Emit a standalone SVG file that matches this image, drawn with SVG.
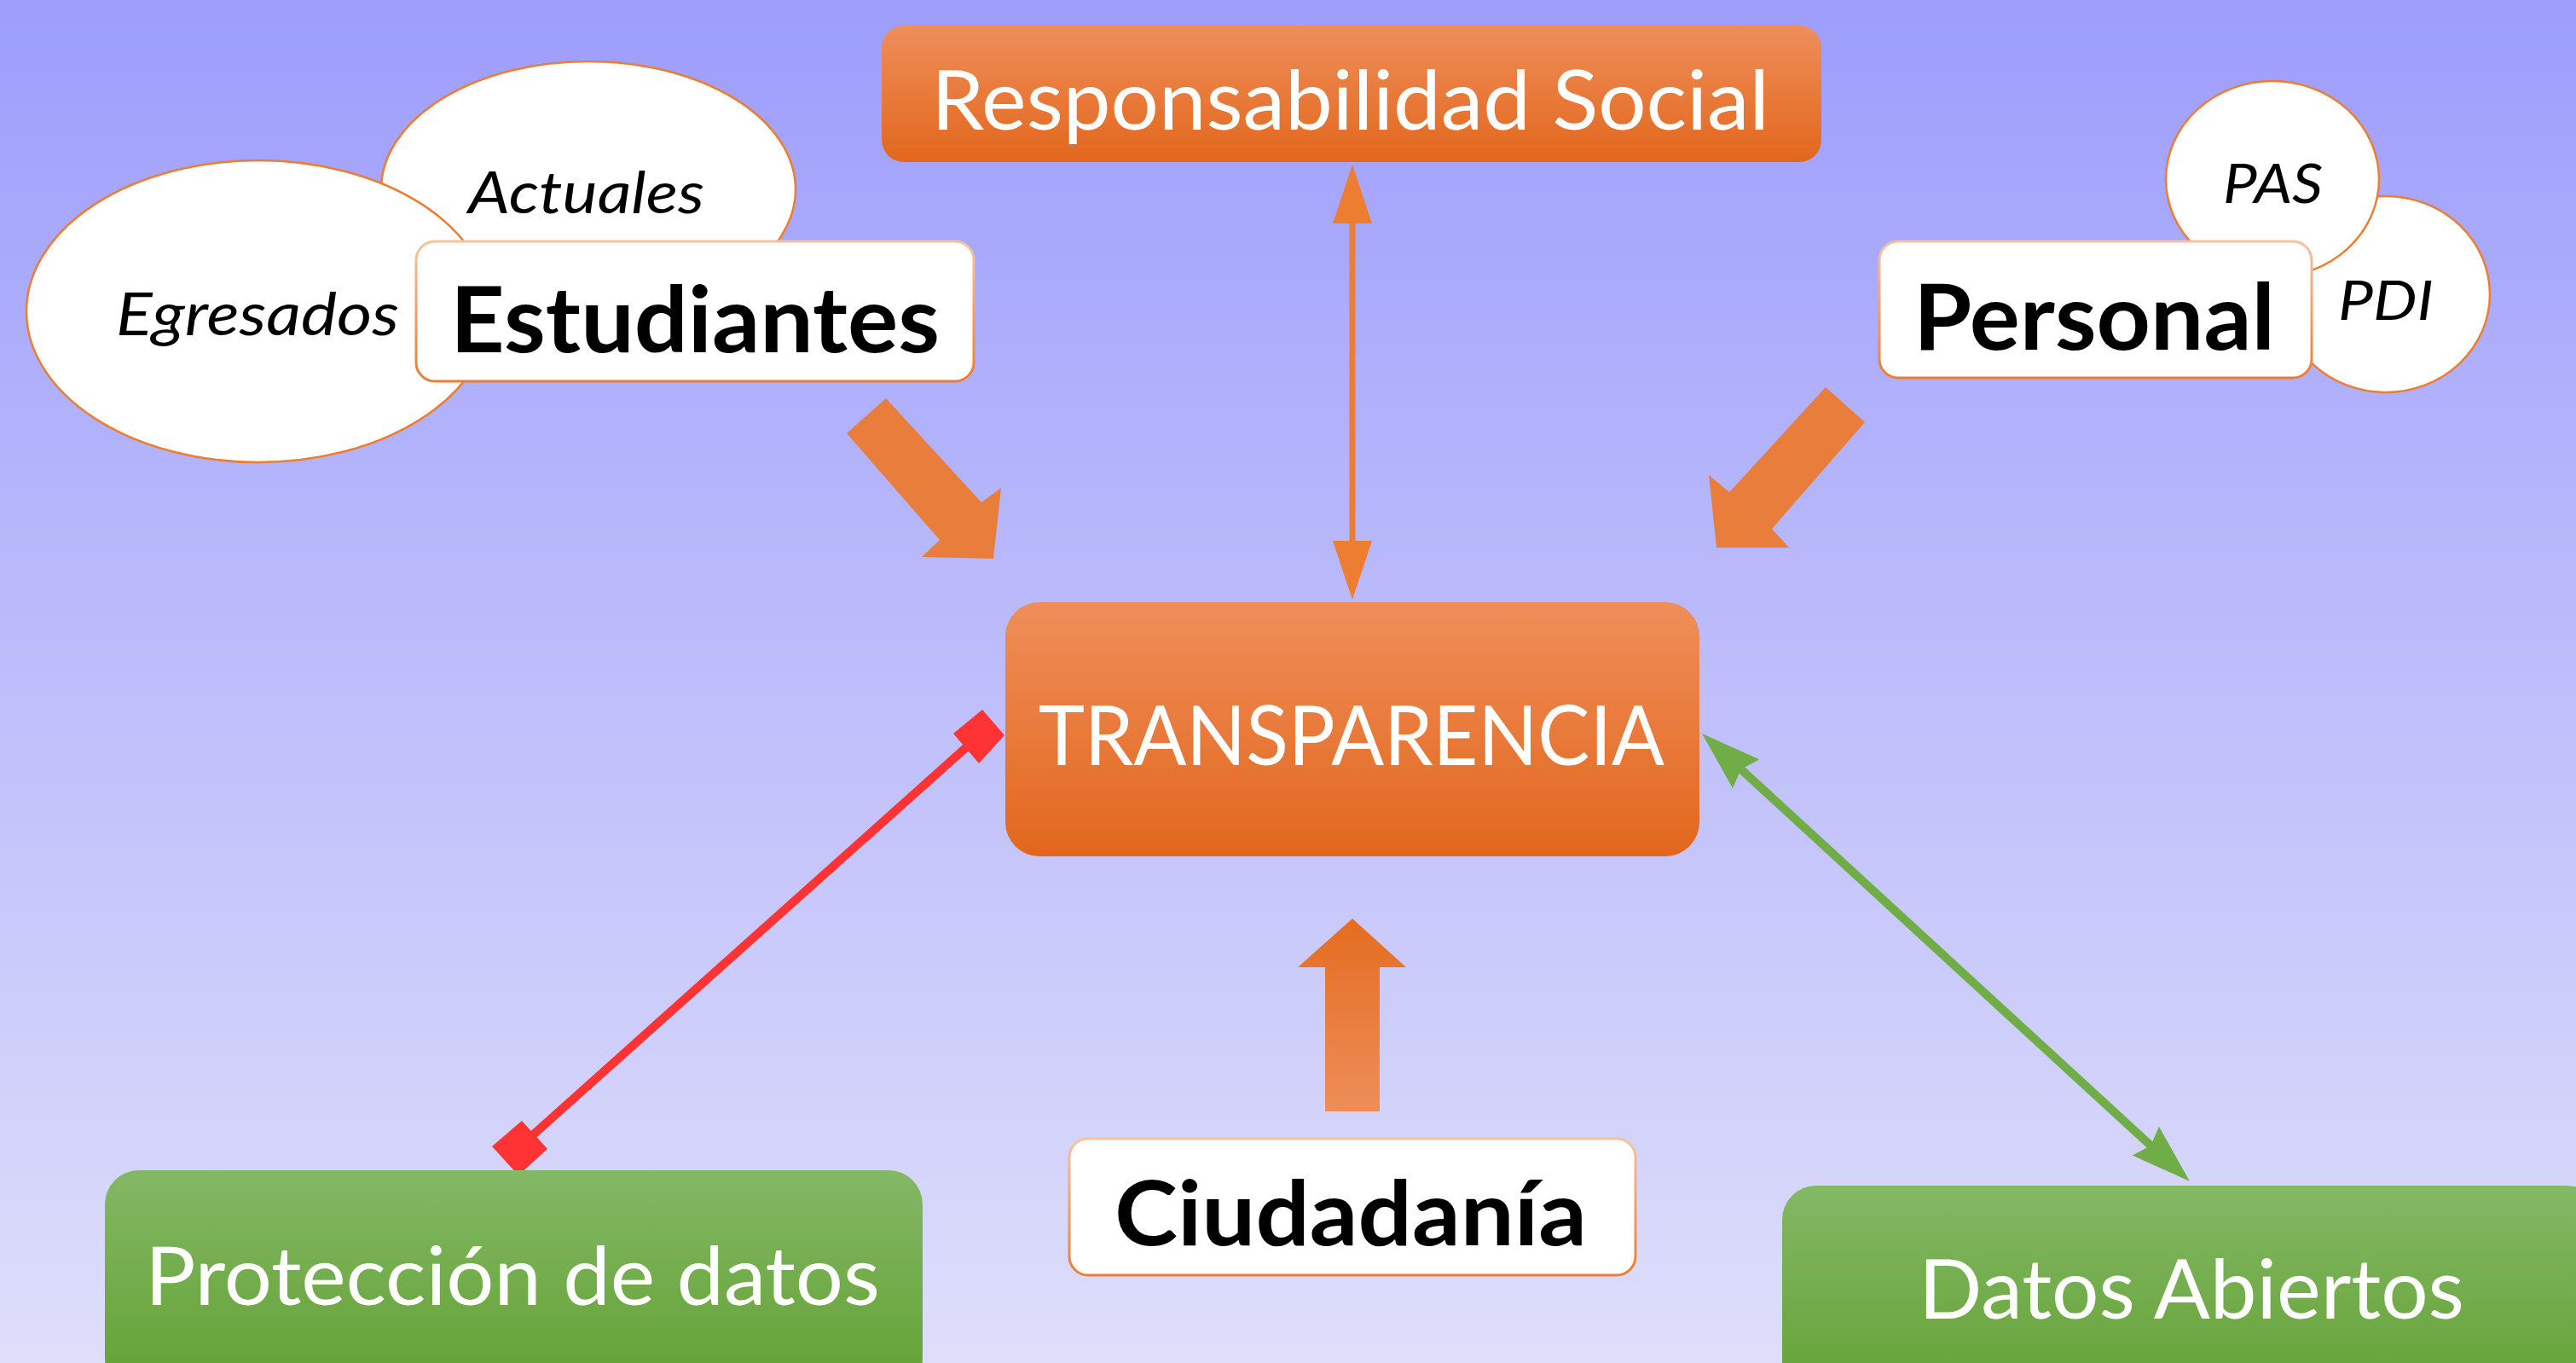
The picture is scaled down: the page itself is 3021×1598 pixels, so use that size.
<svg xmlns="http://www.w3.org/2000/svg" width="3021" height="1598" viewBox="0 0 3021 1598">
<defs>
<linearGradient id="bg" x1="0" y1="0" x2="0" y2="1"><stop offset="0" stop-color="#9d9dfc"/><stop offset="1" stop-color="#dedefa"/></linearGradient>
<linearGradient id="org" x1="0" y1="0" x2="0" y2="1"><stop offset="0" stop-color="#ef8e5a"/><stop offset="1" stop-color="#e2671c"/></linearGradient>
<linearGradient id="grn" x1="0" y1="0" x2="0" y2="1"><stop offset="0" stop-color="#83b865"/><stop offset="1" stop-color="#62a132"/></linearGradient>
<linearGradient id="upar" x1="0" y1="0" x2="0" y2="1"><stop offset="0" stop-color="#e46c1f"/><stop offset="1" stop-color="#ee8e5a"/></linearGradient>
<linearGradient id="bst" x1="0" y1="0" x2="0" y2="1"><stop offset="0" stop-color="#f6c3a2"/><stop offset="1" stop-color="#ed7d31"/></linearGradient>
<marker id="oa" viewBox="0 0 69 46" refX="9" refY="23" markerUnits="userSpaceOnUse" markerWidth="69" markerHeight="46" orient="auto-start-reverse"><path d="M0,0 L69,23 L0,46 Z" fill="#ed7d31"/></marker>
<marker id="ga" viewBox="0 0 70 46" refX="8" refY="23" markerUnits="userSpaceOnUse" markerWidth="70" markerHeight="46" orient="auto-start-reverse"><path d="M0,0 L70,23 L0,46 L8,23 Z" fill="#70ad47"/></marker>
</defs>
<style>
.wbox{fill:#fff;stroke:url(#bst);stroke-width:3}
.ell{fill:#fff;stroke:#ed7d31;stroke-width:2.5}
.tw{font-family:Lato,"Liberation Sans",sans-serif;fill:#fff}
.tb{font-family:Lato,"Liberation Sans",sans-serif;font-weight:bold;fill:#000}
.ti{font-family:Lato,"Liberation Sans",sans-serif;font-style:italic;fill:#000}
.blk{fill:#e97d3b}
</style>
<rect x="0" y="0" width="3021" height="1598" fill="url(#bg)"/>

<g id="connectors">
<line x1="1586" y1="253" x2="1586" y2="643" stroke="#ed7d31" stroke-width="7" marker-start="url(#oa)" marker-end="url(#oa)"/>
<line x1="1149" y1="862" x2="610" y2="1344" stroke="#ff3333" stroke-width="10"/>
<polygon points="1152,832 1178,862 1148,895 1118,860" fill="#ff3333"/>
<polygon points="612,1314 642,1347 608,1378 577,1344" fill="#ff3333"/>
<line x1="2041.7" y1="901.9" x2="2522.3" y2="1343.1" stroke="#70ad47" stroke-width="10" marker-start="url(#ga)" marker-end="url(#ga)"/>
<polygon class="blk" points="1039,467 1151,589 1174,572 1165,655 1081,653 1102,633 993,508"/>
<polygon class="blk" points="2141,454 2187,495 2078,620 2098,642 2013,642 2004,557 2028,577"/>
<polygon fill="url(#upar)" points="1586,1077 1649,1134 1618,1134 1618,1303 1554,1303 1554,1134 1522,1134"/>
</g>

<g id="resp-social">
<rect x="1034" y="30" width="1102" height="160" rx="26" fill="url(#org)"/>
<text class="tw" x="1092" y="152" font-size="96" textLength="983" lengthAdjust="spacingAndGlyphs">Responsabilidad Social</text>
</g>

<g id="actuales">
<ellipse class="ell" cx="690" cy="222" rx="243" ry="150"/>
<text class="ti" x="549" y="250" font-size="67" textLength="277" lengthAdjust="spacingAndGlyphs">Actuales</text>
</g>
<g id="egresados">
<ellipse class="ell" cx="303" cy="365" rx="272" ry="177"/>
<text class="ti" x="136" y="393" font-size="69" textLength="332" lengthAdjust="spacingAndGlyphs">Egresados</text>
</g>
<g id="estudiantes">
<rect class="wbox" x="488" y="283" width="654" height="164" rx="22"/>
<text class="tb" x="528" y="413" font-size="107" textLength="574" lengthAdjust="spacingAndGlyphs">Estudiantes</text>
</g>

<g id="pdi">
<ellipse class="ell" cx="2798" cy="345" rx="122" ry="115"/>
<text class="ti" x="2742" y="375" font-size="64" textLength="112" lengthAdjust="spacingAndGlyphs">PDI</text>
</g>
<g id="pas">
<ellipse class="ell" cx="2665" cy="210" rx="125" ry="115"/>
<text class="ti" x="2607" y="238" font-size="64" textLength="117" lengthAdjust="spacingAndGlyphs">PAS</text>
</g>
<g id="personal">
<rect class="wbox" x="2204" y="283" width="507" height="160" rx="22"/>
<text class="tb" x="2244" y="410" font-size="107" textLength="424" lengthAdjust="spacingAndGlyphs">Personal</text>
</g>

<g id="transparencia">
<rect x="1179" y="706" width="814" height="298" rx="40" fill="url(#org)"/>
<text class="tw" x="1218" y="897" font-size="96" textLength="734" lengthAdjust="spacingAndGlyphs">TRANSPARENCIA</text>
</g>

<g id="ciudadania">
<rect class="wbox" x="1254" y="1335" width="664" height="160" rx="22"/>
<text class="tb" x="1307" y="1460" font-size="105" textLength="554" lengthAdjust="spacingAndGlyphs">Ciudadanía</text>
</g>

<g id="proteccion">
<rect x="123" y="1372" width="959" height="260" rx="40" fill="url(#grn)"/>
<text class="tw" x="170" y="1530" font-size="95" textLength="862" lengthAdjust="spacingAndGlyphs">Protección de datos</text>
</g>

<g id="datos-abiertos">
<rect x="2090" y="1390" width="960" height="260" rx="40" fill="url(#grn)"/>
<text class="tw" x="2250" y="1546" font-size="96" textLength="640" lengthAdjust="spacingAndGlyphs">Datos Abiertos</text>
</g>
</svg>
